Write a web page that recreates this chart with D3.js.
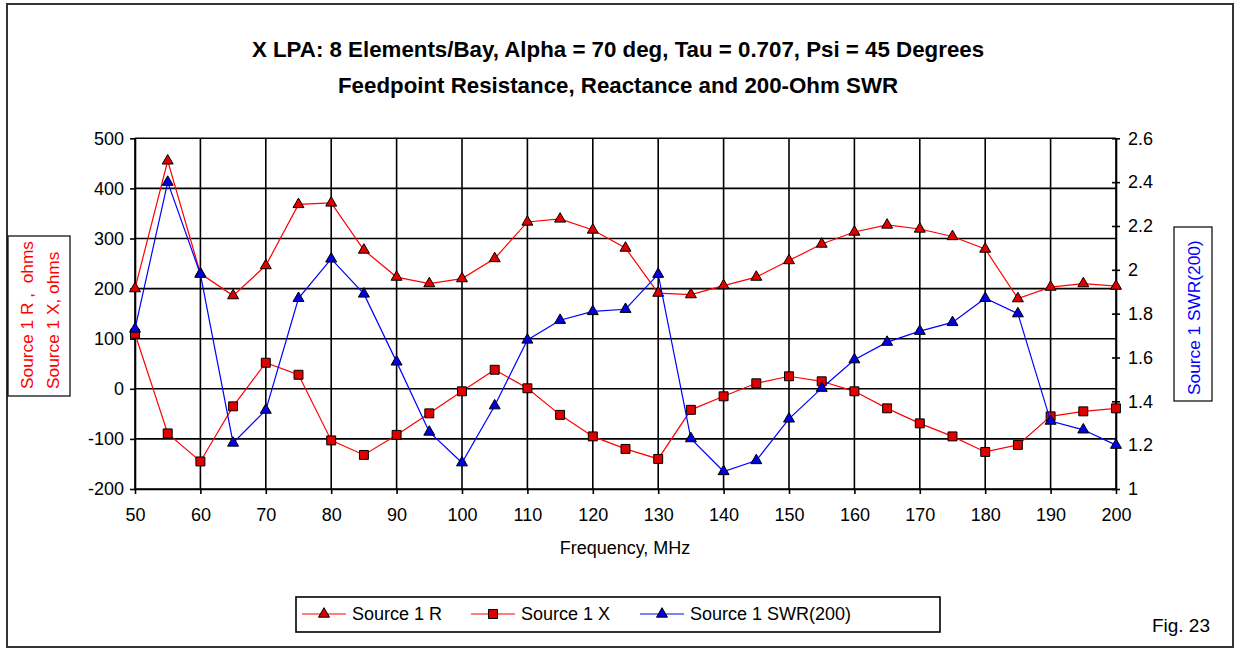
<!DOCTYPE html>
<html>
<head>
<meta charset="utf-8">
<script src="https://cdn.jsdelivr.net/npm/d3@7"></script>
<style>
  html, body { margin: 0; padding: 0; background: #fff; }
  svg { display: block; font-family: "Liberation Sans", Arial, sans-serif; }
</style>
</head>
<body>
<svg id="chart" width="1236" height="649"></svg>
<script>
// Frequency sweep, MHz
const freqs = [50, 55, 60, 65, 70, 75, 80, 85, 90, 95, 100, 105, 110, 115, 120, 125, 130,
  135, 140, 145, 150, 155, 160, 165, 170, 175, 180, 185, 190, 195, 200];

// Feedpoint resistance, ohms
const resistance = [200, 455, 230, 186, 246, 368, 371, 277, 223, 210, 220, 260, 333, 339, 317, 281, 191,
  188, 206, 223, 256, 289, 313, 327, 319, 304, 279, 180, 203, 210, 205];

// Feedpoint reactance, ohms
const reactance = [110, -89, -145, -35, 52, 28, -103, -132, -92, -49, -5, 38, 1, -52, -95, -120, -140,
  -42, -15, 11, 25, 15, -5, -39, -69, -95, -126, -112, -55, -45, -39];

// 200-ohm SWR
const swr = [1.73, 2.40, 1.98, 1.21, 1.36, 1.87, 2.05, 1.89, 1.58, 1.26, 1.12, 1.38, 1.68, 1.77, 1.81, 1.82, 1.98,
  1.23, 1.08, 1.13, 1.32, 1.46, 1.59, 1.67, 1.72, 1.76, 1.87, 1.80, 1.31, 1.27, 1.20];

const xTicks = [50, 60, 70, 80, 90, 100, 110, 120, 130, 140, 150, 160, 170, 180, 190, 200];
const leftTicks = [-200, -100, 0, 100, 200, 300, 400, 500];
const rightTicks = [1, 1.2, 1.4, 1.6, 1.8, 2, 2.2, 2.4, 2.6];

const titleLines = [
  "X LPA: 8 Elements/Bay, Alpha = 70 deg, Tau = 0.707, Psi = 45 Degrees",
  "Feedpoint Resistance, Reactance and 200-Ohm SWR"
];

const svg = d3.select("#chart");

// outer frame
svg.append("rect").attr("x", 7).attr("y", 4).attr("width", 1226).attr("height", 643)
  .attr("fill", "none").attr("stroke", "#333").attr("stroke-width", 2);

const x = d3.scaleLinear().domain([50, 200]).range([135, 1116]);
const yL = d3.scaleLinear().domain([-200, 500]).range([489, 138.3]);
const yR = d3.scaleLinear().domain([1, 2.6]).range([489, 138.3]);

// titles
svg.selectAll("text.title").data(titleLines).join("text")
  .attr("class", "title")
  .attr("x", 618).attr("y", (d, i) => 57 + i * 36)
  .attr("text-anchor", "middle")
  .attr("font-weight", "bold").attr("font-size", 22.3)
  .attr("fill", "#000")
  .text(d => d);

// grid
const grid = svg.append("g").attr("stroke", "#000").attr("stroke-width", 1.6);
grid.selectAll("line.h").data(leftTicks).join("line")
  .attr("x1", x(50)).attr("x2", x(200))
  .attr("y1", d => yL(d)).attr("y2", d => yL(d));
grid.selectAll("line.v").data(xTicks).join("line")
  .attr("x1", d => x(d)).attr("x2", d => x(d))
  .attr("y1", yL(-200)).attr("y2", yL(500));

// axes
const axisStyle = g => {
  g.select(".domain").attr("stroke", "#000").attr("stroke-width", 1.6);
  g.selectAll(".tick line").attr("stroke", "#000").attr("stroke-width", 1.6);
  g.selectAll(".tick text").attr("font-size", 18).attr("fill", "#000")
    .attr("font-family", "'Liberation Sans', Arial, sans-serif");
};
const plain = d => String(d);

svg.append("g").attr("transform", `translate(0,${yL(-200)})`)
  .call(d3.axisBottom(x).tickValues(xTicks).tickFormat(plain).tickSize(5).tickPadding(14).tickSizeOuter(0))
  .call(axisStyle);

svg.append("g").attr("transform", `translate(${x(50)},0)`)
  .call(d3.axisLeft(yL).tickValues(leftTicks).tickFormat(plain).tickSize(5).tickPadding(6).tickSizeOuter(0))
  .call(axisStyle);

const rAxis = svg.append("g").attr("transform", `translate(${x(200)},0)`)
  .call(d3.axisRight(yR).tickValues(rightTicks).tickFormat(plain).tickSize(4).tickPadding(8).tickSizeOuter(0))
  .call(axisStyle);
rAxis.selectAll(".tick line").attr("x1", -4);

// x axis title
svg.append("text").attr("x", 625).attr("y", 554).attr("text-anchor", "middle")
  .attr("font-size", 18).attr("fill", "#000").text("Frequency, MHz");

// left axis title box
svg.append("rect").attr("x", 8).attr("y", 236).attr("width", 62).attr("height", 160)
  .attr("fill", "#fff").attr("stroke", "#000").attr("stroke-width", 1.2);
svg.selectAll("text.ltitle").data(["Source 1 R ,  ohms", "Source 1 X, ohms"]).join("text")
  .attr("class", "ltitle")
  .attr("transform", (d, i) => `translate(${33 + i * 26},389) rotate(-90)`)
  .attr("xml:space", "preserve")
  .style("white-space", "pre")
  .attr("font-size", 17.3).attr("fill", "#ff0000")
  .text(d => d);

// right axis title box
svg.append("rect").attr("x", 1174).attr("y", 227).attr("width", 38).attr("height", 174)
  .attr("fill", "#fff").attr("stroke", "#000").attr("stroke-width", 1.2);
svg.append("text")
  .attr("transform", "translate(1200,395) rotate(-90)")
  .attr("font-size", 17.3).attr("fill", "#0000ff")
  .text("Source 1 SWR(200)");

// series
const triangle = d3.symbol().type(d3.symbolTriangle).size(52);
const square = d3.symbol().type(d3.symbolSquare).size(80);

const series = [
  { name: "Source 1 R", values: resistance, y: yL, color: "#ff0000", fill: "#e00000", sym: triangle },
  { name: "Source 1 X", values: reactance, y: yL, color: "#ff0000", fill: "#e00000", sym: square },
  { name: "Source 1 SWR(200)", values: swr, y: yR, color: "#0000ff", fill: "#0000e0", sym: triangle }
];

series.forEach(s => {
  const pts = freqs.map((f, i) => [x(f), s.y(s.values[i])]);
  svg.append("path").datum(pts)
    .attr("d", d3.line())
    .attr("fill", "none").attr("stroke", s.color).attr("stroke-width", 1.2);
  svg.append("g").selectAll("path").data(pts).join("path")
    .attr("transform", d => `translate(${d[0]},${d[1]})`)
    .attr("d", s.sym())
    .attr("fill", s.fill).attr("stroke", "#000").attr("stroke-width", 1);
});

// legend
svg.append("rect").attr("x", 296).attr("y", 597).attr("width", 644).attr("height", 35)
  .attr("fill", "#fff").attr("stroke", "#000").attr("stroke-width", 1.6);
const legendX = [302, 471, 640];
const leg = svg.append("g").selectAll("g").data(series).join("g")
  .attr("transform", (d, i) => `translate(${legendX[i]},614)`);
leg.append("line").attr("x1", 0).attr("x2", 44).attr("y1", 0).attr("y2", 0)
  .attr("stroke", d => d.color).attr("stroke-width", 1.2);
leg.append("path").attr("transform", "translate(22,0)")
  .attr("d", d => d.sym())
  .attr("fill", d => d.fill).attr("stroke", "#000").attr("stroke-width", 1);
leg.append("text").attr("x", 50).attr("y", 6).attr("font-size", 18).attr("fill", "#000")
  .text(d => d.name);

// figure number
svg.append("text").attr("x", 1210).attr("y", 632).attr("text-anchor", "end")
  .attr("font-size", 19).attr("fill", "#000").text("Fig. 23");
</script>
</body>
</html>
